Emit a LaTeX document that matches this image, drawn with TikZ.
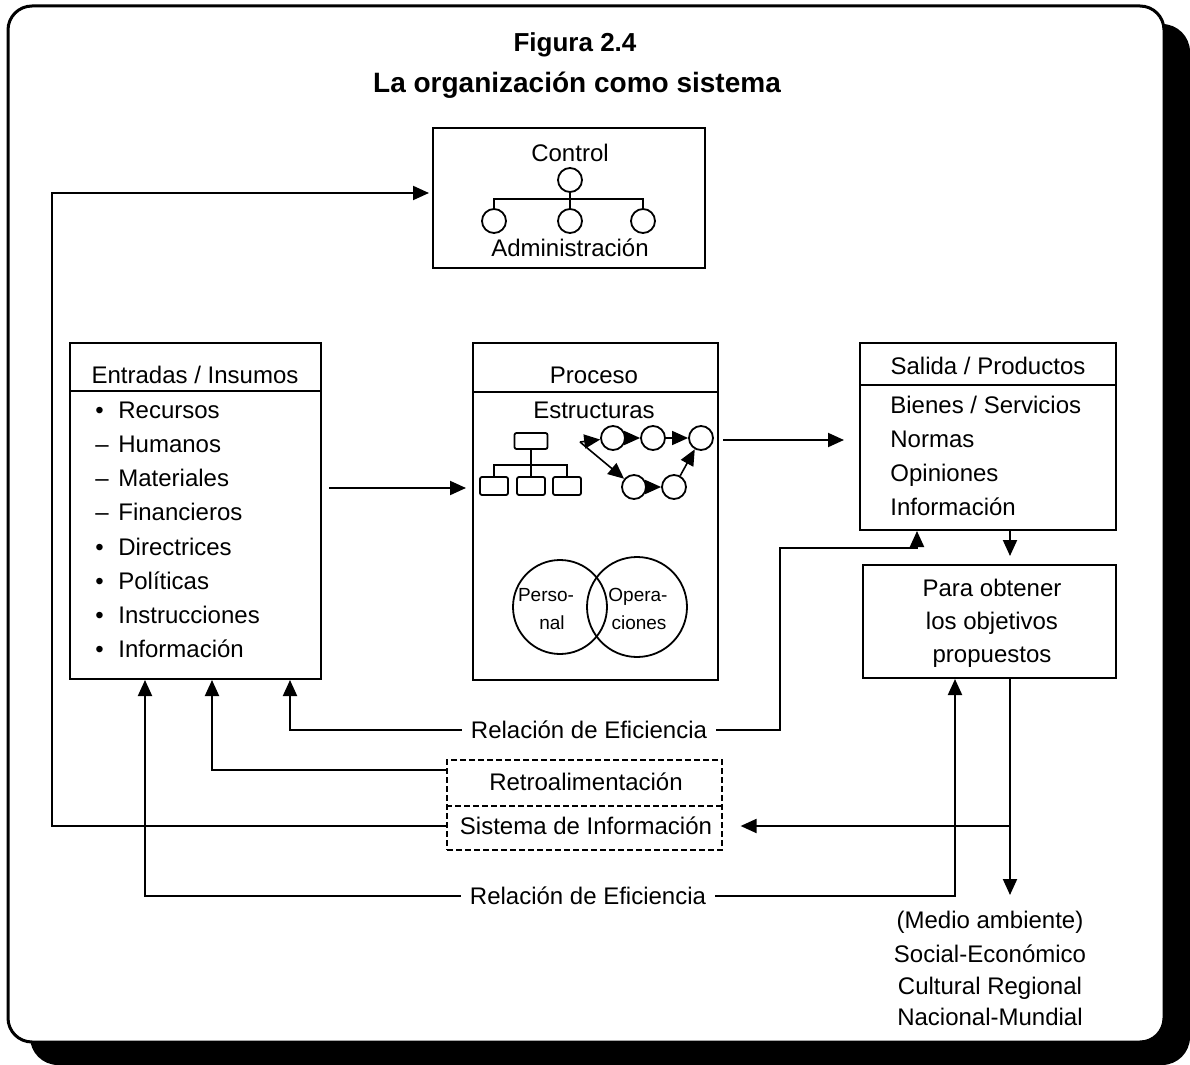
\documentclass[tikz,border=0pt]{standalone}
\usepackage{fontspec}
\setmainfont{Liberation Sans}
\usetikzlibrary{arrows.meta}
\begin{document}
\begin{tikzpicture}[x=0.5pt,y=-0.5pt,
  box/.style={draw,line width=1pt,rectangle,inner sep=0pt},
  dbox/.style={draw,line width=0.6pt,dash pattern=on 3pt off 1.5pt,rectangle,inner sep=0pt},
  txt/.style={font=\fontsize{12}{14}\selectfont,inner sep=0pt,text height=8.6pt,text depth=0pt},
  stxt/.style={font=\fontsize{9.5}{11}\selectfont,inner sep=0pt,text height=7pt,text depth=0pt},
  ttl/.style={font=\bfseries\fontsize{14}{16}\selectfont,inner sep=0pt,text height=10pt,text depth=0pt},
  item/.style={txt,anchor=west},
  conn/.style={line width=1pt},
  arr/.style={line width=1pt,-{Triangle[length=8pt,width=7pt]}},
  sarr/.style={line width=0.8pt,-{Triangle[length=8pt,width=7pt]}},
  circ/.style={circle,draw,line width=0.9pt,inner sep=0pt,minimum size=12pt},
  ncirc/.style={circle,draw,line width=0.9pt,inner sep=0pt,minimum size=12pt},
  rbox/.style={draw,line width=0.9pt,rectangle,rounded corners=1pt,inner sep=0pt,minimum width=14pt,minimum height=9pt},
  thinl/.style={line width=0.9pt}]
\useasboundingbox (0,0) rectangle (1190,1065);
% frame with shadow
\fill[black,rounded corners=14pt] (30,24) rectangle (1190,1065);
\draw[line width=1.5pt,fill=white,rounded corners=12pt] (8,6) rectangle (1164,1042);
% titles
\node[ttl,font=\bfseries\fontsize{13}{15}\selectfont] (fig) at (575,42) {Figura 2.4};
\node[ttl] (tit) at (577,83) {La organización como sistema};
% control box
\node[box,minimum width=136pt,minimum height=70pt] (ctrl) at (569,198) {};
\node[txt] (ctrltx) at (570,153) {Control};
\node[circ] (c0) at (570,180) {};
\node[circ] (c1) at (494,221) {};
\node[circ] (c2) at (570,221) {};
\node[circ] (c3) at (643,221) {};
\draw[thinl] (c0.south) -- (c2.north);
\draw[thinl] (c1.north) -- (c1.north |- 0,199) -- (c3.north |- 0,199) -- (c3.north);
\node[txt] (adm) at (570,248) {Administración};
% entradas
\node[box,minimum width=125.5pt,minimum height=168pt] (ent) at (195.5,511) {};
\draw[conn] (ent.west |- 0,391) -- (ent.east |- 0,391);
\node[txt] (enth) at (195,375) {Entradas / Insumos};
\foreach \m/\t [count=\i] in {{\textbullet}/Recursos,{–}/Humanos,{–}/Materiales,{–}/Financieros,{\textbullet}/Directrices,{\textbullet}/Políticas,{\textbullet}/Instrucciones,{\textbullet}/Información}
  \node[item] (e\i) at (95,{410+34.1*(\i-1)}) {\makebox[11.5pt][l]{\m}\t};
% proceso
\node[box,minimum width=122.5pt,minimum height=168.5pt] (proc) at (595.5,511.5) {};
\draw[conn] (proc.west |- 0,392) -- (proc.east |- 0,392);
\node[txt] (proch) at (594,375) {Proceso};
\node[txt] (estr) at (594,410) {Estructuras};
\node[rbox,minimum width=16.5pt,minimum height=8pt] (r0) at (531,441) {};
\node[rbox] (r1) at (494,486) {};
\node[rbox] (r2) at (531,486) {};
\node[rbox] (r3) at (567,486) {};
\draw[thinl] (r0.south) -- (r2.north);
\draw[thinl] (r1.north) -- (r1.north |- 0,465) -- (r3.north |- 0,465) -- (r3.north);
\coordinate (o) at (580,442);
\node[ncirc] (n1) at (613,438) {};
\node[ncirc] (n2) at (653,438) {};
\node[ncirc] (n3) at (701,438) {};
\node[ncirc] (n4) at (634,487) {};
\node[ncirc] (n5) at (674,487) {};
\draw[sarr] (o) -- (n1);
\draw[sarr] (o) -- (n4);
\draw[sarr] (n1) -- (n2);
\draw[sarr] (n2) -- (n3);
\draw[sarr] (n4) -- (n5);
\draw[sarr] (n5) -- (n3);
\node[circle,draw,line width=0.9pt,inner sep=0pt,minimum size=47pt] (v1) at (560,607) {};
\node[circle,draw,line width=0.9pt,inner sep=0pt,minimum size=50pt] (v2) at (637,607) {};
\node[stxt] (pa) at (546,594) {Perso-};
\node[stxt] (pb) at (552,622) {nal};
\node[stxt] (oa) at (638,594) {Opera-};
\node[stxt] (ob) at (639,622) {ciones};
% salida
\node[box,minimum width=128pt,minimum height=93.5pt] (sal) at (988,436.5) {};
\draw[conn] (sal.west |- 0,385) -- (sal.east |- 0,385);
\node[txt] (salh) at (988,366) {Salida / Productos};
\node[item] (s1) at (890,405) {Bienes / Servicios};
\node[item] (s2) at (890,439) {Normas};
\node[item] (s3) at (890,473) {Opiniones};
\node[item] (s4) at (890,507) {Información};
% para obtener
\node[box,minimum width=126.5pt,minimum height=56.5pt] (para) at (989.5,621.5) {};
\node[txt] (p1) at (992,588) {Para obtener};
\node[txt] (p2) at (992,621) {los objetivos};
\node[txt] (p3) at (992,654) {propuestos};
% medio ambiente
\node[txt] (m1) at (990,920) {(Medio ambiente)};
\node[txt] (m2) at (990,954) {Social-Económico};
\node[txt] (m3) at (990,986) {Cultural Regional};
\node[txt] (m4) at (990,1017) {Nacional-Mundial};
% sistema de informacion
\node[dbox,minimum width=137.5pt,minimum height=45pt] (sis) at (584.5,805) {};
\draw[line width=0.6pt,dash pattern=on 3pt off 1.5pt] (sis.west |- 0,806) -- (sis.east |- 0,806);
\node[txt] (retro) at (586,782) {Retroalimentación};
\node[txt] (sisinf) at (586,826) {Sistema de Información};
% relacion labels
\node[txt,inner xsep=4.5pt] (rel1) at (589,730) {Relación de Eficiencia};
\node[txt,inner xsep=4.5pt] (rel2) at (588,896) {Relación de Eficiencia};
% connectors
\draw[arr,shorten <=3.5pt,shorten >=3pt] (ent.east |- 0,488) -- (proc.west |- 0,488);
\draw[arr,shorten <=2pt,shorten >=7.5pt] (proc.east |- 0,440) -- (sal.west |- 0,440);
\draw[arr,shorten >=4pt] (1010,0 |- sal.south) -- (1010,0 |- para.north);
\draw[arr] (rel1.west) -| (290,0 |- ent.south);
\draw[arr] (rel1.east) -- (780,0 |- rel1.east) -- (780,548) -- (917,548) -- (917,0 |- sal.south);
\draw[arr] (sis.west |- 0,770) -| (212,0 |- ent.south);
\draw[arr,shorten >=1.5pt] (sis.west |- 0,826) -- (52,826) -- (52,193) -- (ctrl.west |- 0,193);
\draw[arr,shorten >=8pt] (1010,0 |- para.south) -- (1010,0 |- m1.north);
\draw[arr,shorten >=9pt] (1010,826) -- (sis.east |- 0,826);
\draw[arr] (rel2.west) -| (145,0 |- ent.south);
\draw[arr] (rel2.east) -| (955,0 |- para.south);
\end{tikzpicture}
\end{document}
